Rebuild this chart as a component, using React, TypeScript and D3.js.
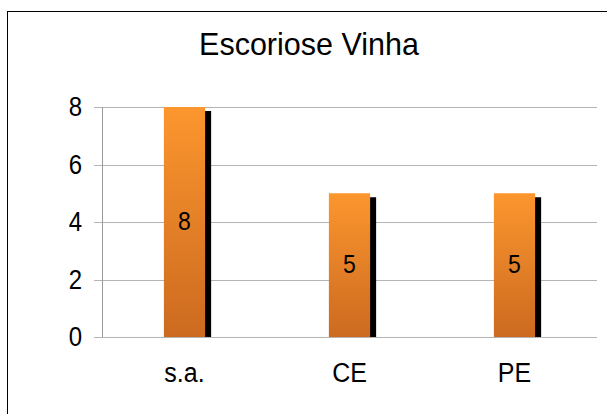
import React, { useEffect, useRef } from "react";
import * as d3 from "d3";

const categories = ["s.a.", "CE", "PE"];
const values = [8, 5, 5];
const yTicks = [0, 2, 4, 6, 8];
const title = "Escoriose Vinha";

export default function App() {
  const ref = useRef<SVGSVGElement>(null);

  useEffect(() => {
    const svg = d3.select(ref.current);
    svg.selectAll("*").remove();

    const width = 607;
    const height = 414;
    const margin = { top: 107, right: 10, bottom: 77, left: 102 };
    const font = "'Liberation Sans', Arial, sans-serif";
    // labels in the source look a bit taller than wide
    const stretch = (px: number, py: number) =>
      `translate(${px},${py}) scale(1,1.12)`;

    const defs = svg.append("defs");
    const grad = defs
      .append("linearGradient")
      .attr("id", "barGrad")
      .attr("x1", 0)
      .attr("y1", 0)
      .attr("x2", 0)
      .attr("y2", 1);
    grad.append("stop").attr("offset", "0%").attr("stop-color", "#fc962e");
    grad.append("stop").attr("offset", "100%").attr("stop-color", "#cc6a20");

    // outer frame
    svg
      .append("rect")
      .attr("x", 7.5)
      .attr("y", 11.5)
      .attr("width", 620)
      .attr("height", 420)
      .attr("fill", "white")
      .attr("stroke", "black");

    svg
      .append("text")
      .attr("x", 309)
      .attr("y", 55)
      .attr("text-anchor", "middle")
      .attr("font-family", font)
      .attr("font-size", 30.5)
      .text(title);

    const x = d3
      .scaleBand()
      .domain(categories)
      .range([margin.left, width - margin.right]);

    const y = d3
      .scaleLinear()
      .domain([0, 8])
      .range([height - margin.bottom, margin.top]);

    const g = svg.append("g");

    // gridlines
    g.selectAll(".grid")
      .data(yTicks)
      .enter()
      .append("line")
      .attr("x1", margin.left - 8)
      .attr("x2", width - margin.right)
      .attr("y1", (d) => Math.round(y(d)) + 0.5)
      .attr("y2", (d) => Math.round(y(d)) + 0.5)
      .attr("stroke", "#b4b4b4")
      .attr("stroke-width", 1);

    g.append("line")
      .attr("x1", margin.left + 0.5)
      .attr("x2", margin.left + 0.5)
      .attr("y1", y(8))
      .attr("y2", y(0))
      .attr("stroke", "#999");

    g.selectAll(".ytick")
      .data(yTicks)
      .enter()
      .append("text")
      .attr("transform", (d) => stretch(82, y(d) + 9))
      .attr("text-anchor", "end")
      .attr("font-family", font)
      .attr("font-size", 24)
      .text((d) => d);

    const bw = x.bandwidth() * 0.25;
    const data = categories.map((c, i) => ({ c, v: values[i] }));

    // shadows
    g.selectAll(".shadow")
      .data(data)
      .enter()
      .append("rect")
      .attr("x", (d) => x(d.c)! + x.bandwidth() / 2 - bw / 2 + 6)
      .attr("y", (d) => y(d.v) + 4)
      .attr("width", bw)
      .attr("height", (d) => y(0) - y(d.v) - 4)
      .attr("fill", "black");

    g.selectAll(".bar")
      .data(data)
      .enter()
      .append("rect")
      .attr("x", (d) => x(d.c)! + x.bandwidth() / 2 - bw / 2)
      .attr("y", (d) => y(d.v))
      .attr("width", bw)
      .attr("height", (d) => y(0) - y(d.v))
      .attr("fill", "url(#barGrad)");

    g.selectAll(".val")
      .data(data)
      .enter()
      .append("text")
      .attr("transform", (d) =>
        stretch(x(d.c)! + x.bandwidth() / 2, (y(d.v) + y(0)) / 2 + 8)
      )
      .attr("text-anchor", "middle")
      .attr("font-family", font)
      .attr("font-size", 23)
      .text((d) => d.v);

    g.selectAll(".xlab")
      .data(categories)
      .enter()
      .append("text")
      .attr("transform", (d) => stretch(x(d)! + x.bandwidth() / 2, 382))
      .attr("text-anchor", "middle")
      .attr("font-family", font)
      .attr("font-size", 25)
      .text((d) => d);
  }, []);

  return (
    <svg
      ref={ref}
      width={607}
      height={414}
      style={{ position: "absolute", left: 0, top: 0, background: "white" }}
    />
  );
}
